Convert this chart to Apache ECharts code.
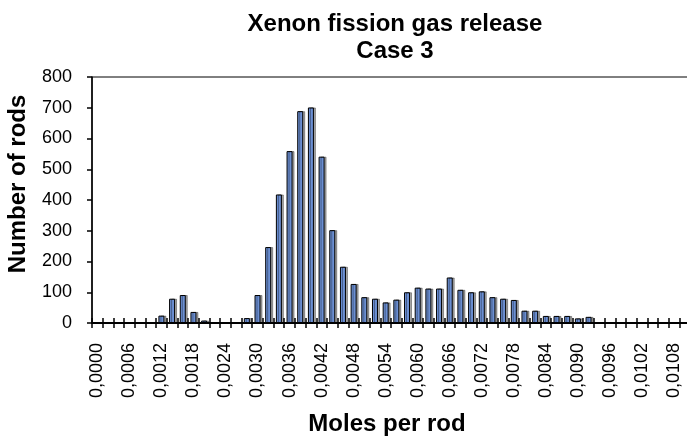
<!DOCTYPE html>
<html>
<head>
<meta charset="utf-8">
<title>Xenon fission gas release</title>
<script src="https://cdn.jsdelivr.net/npm/echarts@6/dist/echarts.min.js"></script>
<style>
  html, body { margin: 0; padding: 0; background: #fff; }
  #chart { width: 687px; height: 438px; }
</style>
</head>
<body>
<div id="chart"></div>
<script>
// bin starts, moles per rod (step 0,0002)
var bins = [];
for (var i = 0; i < 56; i++) bins.push((i * 0.0002).toFixed(4).replace('.', ','));

// number of rods per bin
var rods = [
  0, 0, 0, 0, 0, 3, 24, 79, 91, 36,
  8, 0, 0, 0, 16, 91, 247, 418, 559, 689,
  701, 541, 302, 183, 127, 84, 79, 67, 76, 100,
  115, 112, 112, 148, 108, 100, 103, 84, 79, 75,
  40, 40, 23, 23, 23, 15, 20, 3, 3, 3,
  0, 0, 0, 0, 0, 0
];

var yTicks = [0, 100, 200, 300, 400, 500, 600, 700, 800];

var font = '"Liberation Sans", Arial, sans-serif';

var chart = echarts.init(document.getElementById('chart'));
chart.setOption({
  animation: false,
  title: {
    text: 'Xenon fission gas release\nCase 3',
    left: 390, top: 6, textAlign: 'center',
    textStyle: { fontFamily: font, fontSize: 24, fontWeight: 'bold', color: '#000', lineHeight: 27 }
  },
  grid: {
    left: 92, top: 77, right: -3, bottom: 115,
    outerBoundsMode: 'none',
    containLabel: false,
    show: true, borderColor: '#000', borderWidth: 1, backgroundColor: 'transparent'
  },
  xAxis: [{
    type: 'category',
    data: bins,
    name: 'Moles per rod',
    nameLocation: 'middle',
    nameGap: 89,
    nameTextStyle: { fontFamily: font, fontSize: 24, fontWeight: 'bold', color: '#000', padding: [0, 8, 0, 0] },
    axisLine: { lineStyle: { color: '#000', width: 2 } },
    axisTick: { show: true, interval: 0, length: 5, lineStyle: { color: '#000', width: 1.5 } },
    axisLabel: {
      interval: 2, rotate: 90, margin: 20,
      fontFamily: font, fontSize: 18, color: '#000'
    },
    splitLine: { show: false }
  }, {
    type: 'category',
    data: bins,
    position: 'bottom',
    axisLine: { show: false },
    axisTick: { show: true, inside: true, interval: 0, length: 5, lineStyle: { color: '#000', width: 1.5 } },
    axisLabel: { show: false },
    splitLine: { show: false }
  }],
  yAxis: {
    type: 'value',
    min: 0, max: 800, interval: 100,
    name: 'Number of rods',
    nameLocation: 'middle',
    nameGap: 62,
    nameTextStyle: { fontFamily: font, fontSize: 24, fontWeight: 'bold', color: '#000', padding: [0, 0, 0, 32] },
    axisLine: { show: true, lineStyle: { color: '#000', width: 1.5 } },
    axisTick: { show: true, length: 5, lineStyle: { color: '#000', width: 1.5 } },
    axisLabel: {
      margin: 20, fontFamily: font, fontSize: 18, color: '#000',
      formatter: function (v) { return yTicks.indexOf(v) >= 0 ? String(v) : ''; }
    },
    splitLine: { show: false }
  },
  series: [{
    type: 'bar',
    data: rods,
    barWidth: 6,
    itemStyle: {
      color: '#6b8fd3',
      borderColor: '#000',
      borderWidth: 1,
      shadowColor: 'rgba(0,0,0,0.35)',
      shadowOffsetX: 2,
      shadowOffsetY: 0,
      shadowBlur: 0
    }
  }]
});
</script>
</body>
</html>
